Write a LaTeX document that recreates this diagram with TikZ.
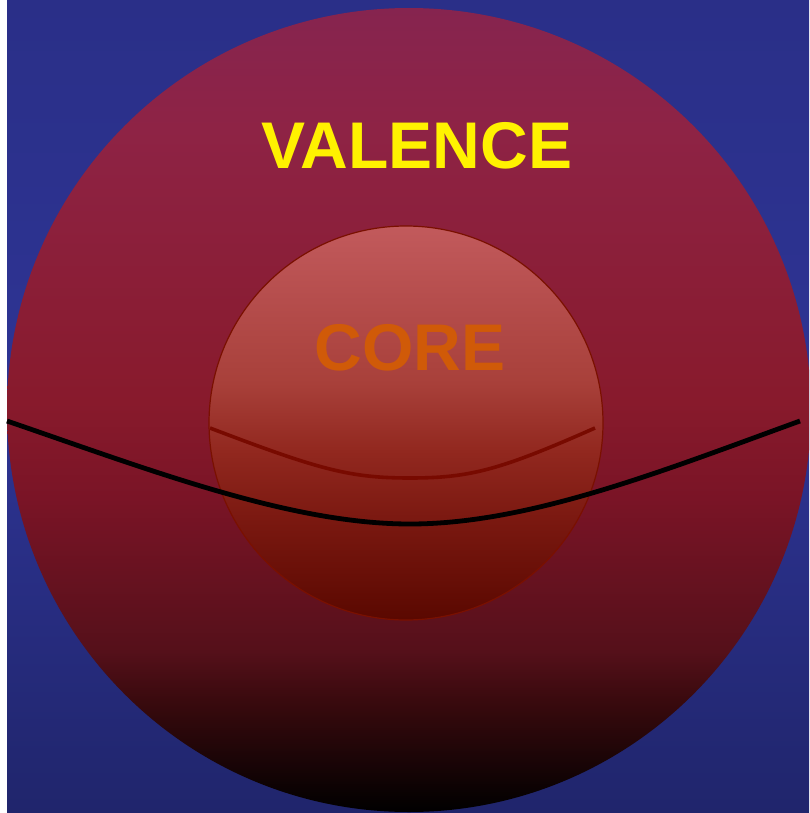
\documentclass[tikz,border=0pt]{standalone}
\usepackage{fontspec}
\setmainfont{Liberation Sans}
\definecolor{bgtop}{HTML}{2A2F88}
\definecolor{bgmid}{HTML}{2E3494}
\definecolor{bgbot}{HTML}{20256C}
\definecolor{bA}{HTML}{3A0A0E}
\definecolor{bB}{HTML}{55101A}
\definecolor{bC}{HTML}{7A1426}
\definecolor{bD}{HTML}{881A2C}
\definecolor{bE}{HTML}{8E2345}
\definecolor{bF}{HTML}{86244F}
\definecolor{cA}{HTML}{5A0800}
\definecolor{cB}{HTML}{7A1810}
\definecolor{cC}{HTML}{92281F}
\definecolor{cD}{HTML}{A8403A}
\definecolor{cE}{HTML}{B54D4C}
\definecolor{cF}{HTML}{C25A5C}
\definecolor{coreedge}{HTML}{7A1000}
\definecolor{coretext}{HTML}{D05A08}
\definecolor{innerline}{HTML}{780A00}
\pgfdeclareverticalshading{bgshade}{100bp}{color(0bp)=(bgbot); color(25bp)=(bgbot); color(50bp)=(bgmid); color(75bp)=(bgtop); color(100bp)=(bgtop)}
\pgfdeclareverticalshading{bigball}{100bp}{color(0bp)=(black); color(25bp)=(black); color(32bp)=(bA); color(35bp)=(bB); color(44.5bp)=(bC); color(50.5bp)=(bD); color(67.5bp)=(bE); color(75bp)=(bF); color(100bp)=(bF)}
\pgfdeclareverticalshading{coreball}{100bp}{color(0bp)=(cA); color(25bp)=(cA); color(37.5bp)=(cB); color(46.5bp)=(cC); color(55bp)=(cD); color(65.5bp)=(cE); color(75bp)=(cF); color(100bp)=(cF)}
\tikzset{
  lbl/.style={font=\fontsize{66}{66}\selectfont\bfseries, inner sep=0pt, anchor=base},
}
\begin{document}
\begin{tikzpicture}[x=1pt,y=-1pt]
\useasboundingbox (0,0) rectangle (809,813);
\clip (0,0) rectangle (809,813);
\fill[white] (0,0) rectangle (7,813);
\shade[shading=bgshade] (7,0) rectangle (809,813);
\shade[shading=bigball] (409,410) circle[radius=402];
\shade[shading=coreball, draw=coreedge, line width=1.2pt] (406,423) circle[radius=197];
\draw[innerline, line width=3.6pt] (210,428) .. controls (320,470) and (350,478) .. (410,478) .. controls (470,478) and (500,470) .. (595,428);
\draw[black, line width=4.8pt] (7,421) .. controls (150,470) and (290,524) .. (410,524) .. controls (530,524) and (665,470) .. (800,421);
\node[lbl, text=yellow] (valence) at (417,168) {VALENCE};
\node[lbl, text=coretext] (core) at (410,370) {CORE};
\end{tikzpicture}
\end{document}
